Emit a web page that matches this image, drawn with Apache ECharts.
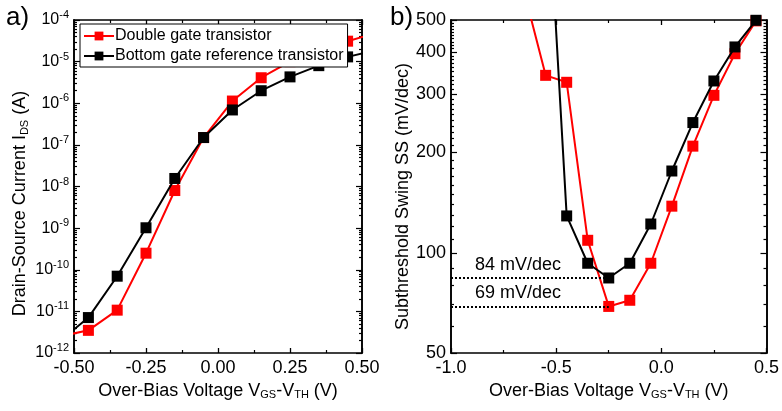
<!DOCTYPE html>
<html>
<head>
<meta charset="utf-8">
<script src="https://cdn.jsdelivr.net/npm/echarts@6/dist/echarts.min.js"></script>
<style>
  html, body { margin: 0; padding: 0; background: #fff; }
  #chart { width: 782px; height: 411px; }
</style>
</head>
<body>
<div id="chart"></div>
<script>
// ---- a) transfer characteristics: I_DS vs over-bias voltage ----
const biasA = [-0.55, -0.45, -0.35, -0.25, -0.15, -0.05, 0.05, 0.15, 0.25, 0.35, 0.45, 0.55];
const idsDoubleGate = [2.5e-12, 3.5e-12, 1.07e-11, 2.5e-10, 8e-9, 1.5e-7, 1.13e-6, 4.1e-6, 1.0e-5, 2.0e-5, 3.1e-5, 4.9e-5];
const idsBottomGate = [1.9e-12, 7.1e-12, 7e-11, 1.02e-9, 1.56e-8, 1.5e-7, 6.9e-7, 2.0e-6, 4.3e-6, 8.0e-6, 1.3e-5, 1.9e-5];
const idsDecades = [1e-12, 1e-11, 1e-10, 1e-9, 1e-8, 1e-7, 1e-6, 1e-5, 1e-4];

// ---- b) subthreshold swing vs over-bias voltage ----
const biasDoubleB = [-0.65, -0.55, -0.45, -0.35, -0.25, -0.15, -0.05, 0.05, 0.15, 0.25, 0.35, 0.45];
const ssDoubleGate = [600, 341, 325, 109, 69, 72, 93, 138, 209, 297, 396, 497];
const biasBottomB = [-0.55, -0.45, -0.35, -0.25, -0.15, -0.05, 0.05, 0.15, 0.25, 0.35, 0.45];
const ssBottomGate = [1650, 129, 93, 84, 93, 122, 176, 246, 328, 415, 499];
const ssTickLabels = [50, 100, 200, 300, 400, 500];
const ssMinDouble = 69;
const ssMinBottom = 84;
const biasAtMin = -0.25;

const seriesNames = ['Double gate transistor', 'Bottom gate reference transistor'];
const RED = '#ff0000';
const BLACK = '#000000';
const FONT = 'Liberation Sans, Arial, sans-serif';

// minor tick positions for the log axes
const idsMinor = [];
for (let e = -12; e < -4; e++) {
  for (let k = 2; k <= 9; k++) idsMinor.push(k * Math.pow(10, e));
}
const ssMinor = [];
for (let v = 60; v < 500; v += 10) {
  if (ssTickLabels.indexOf(v) < 0) ssMinor.push(v);
}

const axisLine = { show: true, onZero: false, lineStyle: { color: BLACK, width: 1.6 } };
const noSplit = { show: false };
const nameRich = {
  t: { fontFamily: FONT, fontSize: 18, color: BLACK },
  s: { fontFamily: FONT, fontSize: 11, color: BLACK, padding: [9, 0, 0, 0] }
};

function xAxisFor(grid, pos, min, max, interval, labels, digits, name) {
  return {
    type: 'value', gridIndex: grid, position: pos, min: min, max: max, interval: interval,
    axisLine: axisLine,
    axisTick: { show: true, inside: true, length: 5, lineStyle: { color: BLACK, width: 1.3 } },
    minorTick: { show: true, splitNumber: 2, length: 3, lineStyle: { color: BLACK, width: 1.2 } },
    splitLine: noSplit, minorSplitLine: noSplit,
    axisLabel: {
      show: labels, color: BLACK, fontFamily: FONT, fontSize: 18, margin: 6,
      formatter: v => v.toFixed(digits)
    },
    name: labels ? name : '',
    nameLocation: 'middle', nameGap: 27,
    nameTextStyle: { color: BLACK, fontFamily: FONT, fontSize: 18, rich: nameRich }
  };
}

function logYAxisFor(grid, pos, min, max, values, len, labels, formatter, name, nameGap, namePad, labelRich) {
  return {
    type: 'log', logBase: 10, gridIndex: grid, position: pos, min: min, max: max,
    axisLine: axisLine,
    axisTick: { show: true, inside: true, length: len, customValues: values, lineStyle: { color: BLACK, width: 1.2 } },
    splitLine: noSplit,
    axisLabel: {
      show: labels, customValues: values, color: BLACK, fontFamily: FONT, fontSize: 18, margin: 5,
      formatter: formatter, rich: labelRich
    },
    name: name || '',
    nameLocation: 'middle', nameGap: nameGap || 0,
    nameTextStyle: {
      color: BLACK, fontFamily: FONT, fontSize: 18, rich: nameRich,
      padding: namePad || 0
    }
  };
}

const powerLabel = v => '{b|10}{e|' + Math.round(Math.log10(v)) + '}';
const powerRich = {
  b: { fontFamily: FONT, fontSize: 16, color: BLACK },
  e: { fontFamily: FONT, fontSize: 11, color: BLACK, padding: [0, 0, 10, 0] }
};
const xName = '{t|Over-Bias Voltage V}{s|GS}{t|-V}{s|TH}{t| (V)}';

const option = {
  animation: false,
  backgroundColor: '#fff',
  textStyle: { fontFamily: FONT },
  title: [
    { text: 'a)', left: 1, top: 0, textStyle: { fontFamily: FONT, fontSize: 26, fontWeight: 'normal', color: BLACK } },
    { text: 'b)', left: 385, top: 0, textStyle: { fontFamily: FONT, fontSize: 26, fontWeight: 'normal', color: BLACK } }
  ],
  legend: {
    data: seriesNames,
    orient: 'vertical',
    left: 80, top: 24,
    backgroundColor: '#fff',
    borderColor: BLACK, borderWidth: 1,
    padding: [4, 4, 3, 3],
    itemGap: 4,
    itemWidth: 30, itemHeight: 11,
    textStyle: { fontFamily: FONT, fontSize: 16, color: BLACK, padding: [0, 0, 0, -4] }
  },
  grid: [
    { left: 74, right: 420, top: 20, bottom: 58 },
    { left: 451, right: 15, top: 20, bottom: 58 }
  ],
  xAxis: [
    xAxisFor(0, 'bottom', -0.5, 0.5, 0.25, true, 2, xName),
    xAxisFor(0, 'top', -0.5, 0.5, 0.25, false, 2, ''),
    xAxisFor(1, 'bottom', -1.0, 0.5, 0.5, true, 1, xName),
    xAxisFor(1, 'top', -1.0, 0.5, 0.5, false, 1, '')
  ],
  yAxis: [
    logYAxisFor(0, 'left', 1e-12, 1e-4, idsDecades, 6, true, powerLabel,
      '{t|Drain-Source Current I}{s|DS}{t| (A)}', 44, [0, 34, 0, 0], powerRich),
    logYAxisFor(0, 'left', 1e-12, 1e-4, idsMinor, 3, false),
    logYAxisFor(0, 'right', 1e-12, 1e-4, idsDecades, 6, false),
    logYAxisFor(0, 'right', 1e-12, 1e-4, idsMinor, 3, false),
    logYAxisFor(1, 'left', 50, 500, ssTickLabels, 6, true, v => String(Math.round(v)),
      'Subthreshold Swing SS (mV/dec)', 33, [0, 20, 0, 0]),
    logYAxisFor(1, 'left', 50, 500, ssMinor, 3, false),
    logYAxisFor(1, 'right', 50, 500, ssTickLabels, 6, false),
    logYAxisFor(1, 'right', 50, 500, ssMinor, 3, false)
  ],
  series: [
    {
      name: seriesNames[0], type: 'line', xAxisIndex: 0, yAxisIndex: 0,
      data: biasA.map((v, i) => [v, idsDoubleGate[i]]),
      symbol: 'rect', symbolSize: 11, showAllSymbol: true, clip: true,
      itemStyle: { color: RED }, lineStyle: { color: RED, width: 2 }, z: 2
    },
    {
      name: seriesNames[1], type: 'line', xAxisIndex: 0, yAxisIndex: 0,
      data: biasA.map((v, i) => [v, idsBottomGate[i]]),
      symbol: 'rect', symbolSize: 11, showAllSymbol: true, clip: true,
      itemStyle: { color: BLACK }, lineStyle: { color: BLACK, width: 2 }, z: 3
    },
    {
      name: seriesNames[0], type: 'line', xAxisIndex: 2, yAxisIndex: 4,
      data: biasDoubleB.map((v, i) => [v, ssDoubleGate[i]]),
      symbol: 'rect', symbolSize: 11, showAllSymbol: true, clip: true,
      itemStyle: { color: RED }, lineStyle: { color: RED, width: 2 }, z: 2,
      markLine: {
        silent: true, symbol: ['none', 'none'], animation: false,
        lineStyle: { color: BLACK, type: [2, 2], width: 2 },
        label: {
          show: true, position: 'insideStartTop', formatter: ssMinDouble + ' mV/dec',
          color: BLACK, fontFamily: FONT, fontSize: 18, distance: [24, 4]
        },
        data: [[{ coord: [-1.0, ssMinDouble] }, { coord: [biasAtMin, ssMinDouble] }]]
      }
    },
    {
      name: seriesNames[1], type: 'line', xAxisIndex: 2, yAxisIndex: 4,
      data: biasBottomB.map((v, i) => [v, ssBottomGate[i]]),
      symbol: 'rect', symbolSize: 11, showAllSymbol: true, clip: true,
      itemStyle: { color: BLACK }, lineStyle: { color: BLACK, width: 2 }, z: 3,
      markLine: {
        silent: true, symbol: ['none', 'none'], animation: false,
        lineStyle: { color: BLACK, type: [2, 2], width: 2 },
        label: {
          show: true, position: 'insideStartTop', formatter: ssMinBottom + ' mV/dec',
          color: BLACK, fontFamily: FONT, fontSize: 18, distance: [24, 4]
        },
        data: [[{ coord: [-1.0, ssMinBottom] }, { coord: [biasAtMin, ssMinBottom] }]]
      }
    }
  ]
};

const chart = echarts.init(document.getElementById('chart'), null, { renderer: 'canvas' });
chart.setOption(option);
</script>
</body>
</html>
